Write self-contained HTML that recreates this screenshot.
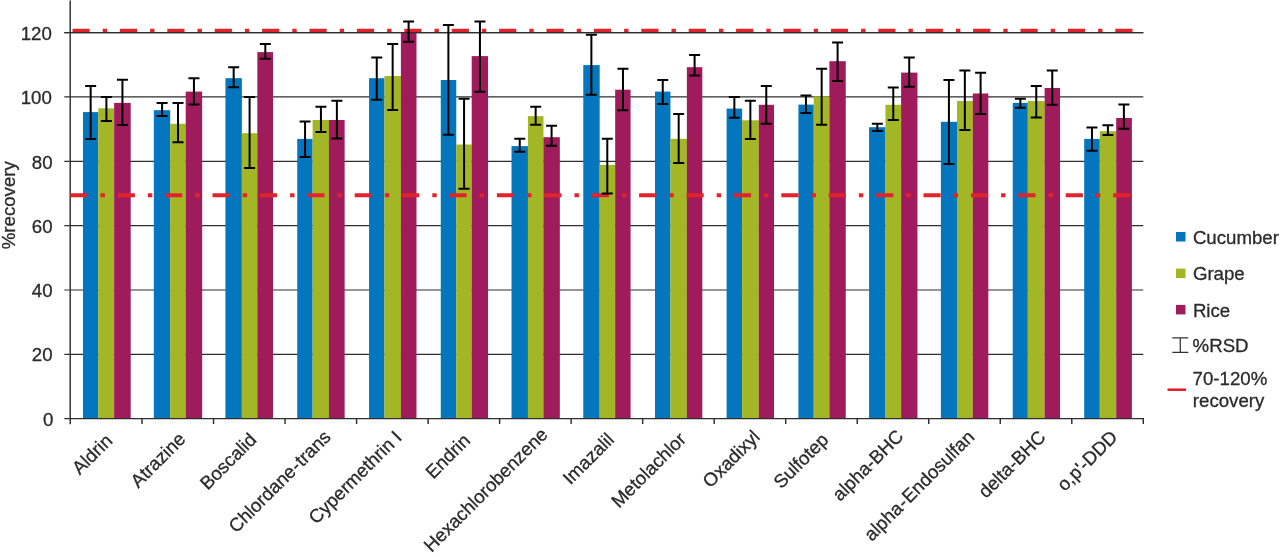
<!DOCTYPE html>
<html lang="en"><head><meta charset="utf-8"><title>%recovery chart</title>
<style>html,body{margin:0;padding:0;background:#fff;}body{width:1280px;height:557px;overflow:hidden;}svg{display:block;}text{font-family:"Liberation Sans",sans-serif;font-size:18.67px;fill:#2a2a2a;stroke:#2a2a2a;stroke-width:0.3px;}</style>
</head><body>
<svg width="1280" height="557" viewBox="0 0 1280 557">
<rect width="1280" height="557" fill="#ffffff"/>
<g stroke="#2e2e2e" stroke-width="1.2" fill="none">
<line x1="64.3" y1="354.37" x2="1143.3" y2="354.37"/>
<line x1="64.3" y1="290.01" x2="1143.3" y2="290.01"/>
<line x1="64.3" y1="225.66" x2="1143.3" y2="225.66"/>
<line x1="64.3" y1="161.30" x2="1143.3" y2="161.30"/>
<line x1="64.3" y1="96.95" x2="1143.3" y2="96.95"/>
<line x1="64.3" y1="32.60" x2="1143.3" y2="32.60"/>
</g>
<rect x="82.96" y="112.10" width="15.40" height="306.60" fill="#0476bd"/>
<rect x="98.31" y="108.30" width="15.90" height="310.40" fill="#a3b626"/>
<rect x="114.15" y="102.90" width="16.55" height="315.80" fill="#9f1b5c"/>
<rect x="153.82" y="110.20" width="16.40" height="308.50" fill="#0476bd"/>
<rect x="170.17" y="123.80" width="15.60" height="294.90" fill="#a3b626"/>
<rect x="185.71" y="91.60" width="16.45" height="327.10" fill="#9f1b5c"/>
<rect x="225.43" y="78.20" width="16.45" height="340.50" fill="#0476bd"/>
<rect x="241.83" y="133.20" width="15.55" height="285.50" fill="#a3b626"/>
<rect x="257.32" y="52.10" width="15.70" height="366.60" fill="#9f1b5c"/>
<rect x="297.24" y="138.90" width="15.40" height="279.80" fill="#0476bd"/>
<rect x="312.59" y="120.00" width="16.40" height="298.70" fill="#a3b626"/>
<rect x="328.93" y="120.00" width="15.70" height="298.70" fill="#9f1b5c"/>
<rect x="369.05" y="78.20" width="15.45" height="340.50" fill="#0476bd"/>
<rect x="384.45" y="76.00" width="16.50" height="342.70" fill="#a3b626"/>
<rect x="400.89" y="32.50" width="15.60" height="386.20" fill="#9f1b5c"/>
<rect x="440.76" y="80.00" width="15.50" height="338.70" fill="#0476bd"/>
<rect x="456.21" y="144.50" width="15.55" height="274.20" fill="#a3b626"/>
<rect x="471.70" y="56.10" width="16.35" height="362.60" fill="#9f1b5c"/>
<rect x="511.52" y="146.10" width="16.45" height="272.60" fill="#0476bd"/>
<rect x="527.92" y="116.10" width="15.55" height="302.60" fill="#a3b626"/>
<rect x="543.41" y="137.20" width="16.40" height="281.50" fill="#9f1b5c"/>
<rect x="583.28" y="65.10" width="16.40" height="353.60" fill="#0476bd"/>
<rect x="599.63" y="164.90" width="15.60" height="253.80" fill="#a3b626"/>
<rect x="615.17" y="89.70" width="15.40" height="329.00" fill="#9f1b5c"/>
<rect x="654.99" y="91.60" width="15.45" height="327.10" fill="#0476bd"/>
<rect x="670.39" y="138.80" width="16.55" height="279.90" fill="#a3b626"/>
<rect x="686.88" y="67.20" width="15.45" height="351.50" fill="#9f1b5c"/>
<rect x="726.60" y="108.60" width="15.55" height="310.10" fill="#0476bd"/>
<rect x="742.10" y="120.30" width="16.80" height="298.40" fill="#a3b626"/>
<rect x="758.84" y="104.80" width="15.20" height="313.90" fill="#9f1b5c"/>
<rect x="798.41" y="104.60" width="15.35" height="314.10" fill="#0476bd"/>
<rect x="813.71" y="96.40" width="15.75" height="322.30" fill="#a3b626"/>
<rect x="829.40" y="61.20" width="16.35" height="357.50" fill="#9f1b5c"/>
<rect x="869.07" y="127.20" width="16.45" height="291.50" fill="#0476bd"/>
<rect x="885.47" y="104.80" width="15.70" height="313.90" fill="#a3b626"/>
<rect x="901.11" y="72.60" width="16.35" height="346.10" fill="#9f1b5c"/>
<rect x="940.88" y="121.80" width="16.15" height="296.90" fill="#0476bd"/>
<rect x="956.98" y="101.00" width="15.85" height="317.70" fill="#a3b626"/>
<rect x="972.77" y="93.50" width="15.55" height="325.20" fill="#9f1b5c"/>
<rect x="1012.74" y="102.90" width="15.10" height="315.80" fill="#0476bd"/>
<rect x="1027.79" y="101.00" width="16.90" height="317.70" fill="#a3b626"/>
<rect x="1044.63" y="88.00" width="15.40" height="330.70" fill="#9f1b5c"/>
<rect x="1084.20" y="138.90" width="15.60" height="279.80" fill="#0476bd"/>
<rect x="1099.75" y="131.20" width="16.50" height="287.50" fill="#a3b626"/>
<rect x="1116.19" y="118.00" width="15.70" height="300.70" fill="#9f1b5c"/>
<g stroke="#2e2e2e" stroke-width="1.45" fill="none">
<line x1="70.2" y1="0.5" x2="70.2" y2="424.2"/>
<line x1="64.3" y1="418.6" x2="1143.9" y2="418.6"/>
<line x1="142.02" y1="418.0" x2="142.02" y2="424.0"/>
<line x1="213.54" y1="418.0" x2="213.54" y2="424.0"/>
<line x1="285.06" y1="418.0" x2="285.06" y2="424.0"/>
<line x1="356.58" y1="418.0" x2="356.58" y2="424.0"/>
<line x1="428.10" y1="418.0" x2="428.10" y2="424.0"/>
<line x1="499.62" y1="418.0" x2="499.62" y2="424.0"/>
<line x1="571.14" y1="418.0" x2="571.14" y2="424.0"/>
<line x1="642.66" y1="418.0" x2="642.66" y2="424.0"/>
<line x1="714.18" y1="418.0" x2="714.18" y2="424.0"/>
<line x1="785.70" y1="418.0" x2="785.70" y2="424.0"/>
<line x1="857.22" y1="418.0" x2="857.22" y2="424.0"/>
<line x1="928.74" y1="418.0" x2="928.74" y2="424.0"/>
<line x1="1000.26" y1="418.0" x2="1000.26" y2="424.0"/>
<line x1="1071.78" y1="418.0" x2="1071.78" y2="424.0"/>
<line x1="1143.30" y1="418.0" x2="1143.30" y2="424.0"/>
</g>
<g stroke="#e1232b" stroke-width="4" fill="none" stroke-dasharray="17.2 13 4.4 12.8">
<line x1="72.5" y1="30.7" x2="1133.2" y2="30.7"/>
<line x1="70.3" y1="195.2" x2="1131.5" y2="195.2"/>
</g>
<line x1="64.3" y1="32.60" x2="1143.3" y2="32.60" stroke="#2e2e2e" stroke-width="1.2"/>
<g stroke="#000000" stroke-width="2" fill="none">
<path d="M90.65 86.00V138.90M85.15 86.00h11M85.15 138.90h11"/>
<path d="M106.40 96.90V120.90M100.90 96.90h11M100.90 120.90h11"/>
<path d="M122.43 79.80V125.00M116.93 79.80h11M116.93 125.00h11"/>
<path d="M162.09 102.90V115.90M156.59 102.90h11M156.59 115.90h11"/>
<path d="M178.01 102.90V142.20M172.51 102.90h11M172.51 142.20h11"/>
<path d="M193.94 78.20V104.60M188.44 78.20h11M188.44 104.60h11"/>
<path d="M233.67 67.20V87.30M228.17 67.20h11M228.17 87.30h11"/>
<path d="M249.59 96.90V168.10M244.09 96.90h11M244.09 168.10h11"/>
<path d="M265.32 43.90V58.80M259.82 43.90h11M259.82 58.80h11"/>
<path d="M305.07 121.50V157.00M299.57 121.50h11M299.57 157.00h11"/>
<path d="M320.94 106.70V132.00M315.44 106.70h11M315.44 132.00h11"/>
<path d="M336.89 100.80V138.50M331.39 100.80h11M331.39 138.50h11"/>
<path d="M376.75 57.40V99.80M371.25 57.40h11M371.25 99.80h11"/>
<path d="M392.65 43.90V110.00M387.15 43.90h11M387.15 110.00h11"/>
<path d="M408.60 21.60V41.80M403.10 21.60h11M403.10 41.80h11"/>
<path d="M448.38 25.10V134.80M442.88 25.10h11M442.88 134.80h11"/>
<path d="M464.06 98.70V188.80M458.56 98.70h11M458.56 188.80h11"/>
<path d="M479.95 21.60V91.70M474.45 21.60h11M474.45 91.70h11"/>
<path d="M519.75 138.80V151.70M514.25 138.80h11M514.25 151.70h11"/>
<path d="M535.67 106.70V124.70M530.17 106.70h11M530.17 124.70h11"/>
<path d="M551.58 125.70V145.70M546.08 125.70h11M546.08 145.70h11"/>
<path d="M591.38 34.70V94.80M585.88 34.70h11M585.88 94.80h11"/>
<path d="M607.30 138.80V193.50M601.80 138.80h11M601.80 193.50h11"/>
<path d="M622.97 68.70V110.20M617.47 68.70h11M617.47 110.20h11"/>
<path d="M662.76 80.00V104.00M657.26 80.00h11M657.26 104.00h11"/>
<path d="M678.68 114.00V162.90M673.18 114.00h11M673.18 162.90h11"/>
<path d="M694.60 55.00V75.60M689.10 55.00h11M689.10 75.60h11"/>
<path d="M734.35 97.00V117.80M728.85 97.00h11M728.85 117.80h11"/>
<path d="M750.35 100.80V138.90M744.85 100.80h11M744.85 138.90h11"/>
<path d="M766.27 86.00V123.80M760.77 86.00h11M760.77 123.80h11"/>
<path d="M805.96 95.50V113.10M800.46 95.50h11M800.46 113.10h11"/>
<path d="M821.66 68.70V124.80M816.16 68.70h11M816.16 124.80h11"/>
<path d="M837.60 42.40V80.90M832.10 42.40h11M832.10 80.90h11"/>
<path d="M877.33 123.80V131.00M871.83 123.80h11M871.83 131.00h11"/>
<path d="M893.28 87.60V119.90M887.78 87.60h11M887.78 119.90h11"/>
<path d="M909.22 57.40V86.70M903.72 57.40h11M903.72 86.70h11"/>
<path d="M948.92 80.00V164.00M943.42 80.00h11M943.42 164.00h11"/>
<path d="M964.84 70.60V130.00M959.34 70.60h11M959.34 130.00h11"/>
<path d="M980.61 72.80V114.00M975.11 72.80h11M975.11 114.00h11"/>
<path d="M1020.35 98.70V107.70M1014.85 98.70h11M1014.85 107.70h11"/>
<path d="M1036.26 86.00V117.40M1030.76 86.00h11M1030.76 117.40h11"/>
<path d="M1052.26 70.60V104.80M1046.76 70.60h11M1046.76 104.80h11"/>
<path d="M1091.96 127.50V150.80M1086.46 127.50h11M1086.46 150.80h11"/>
<path d="M1107.90 125.30V135.00M1102.40 125.30h11M1102.40 135.00h11"/>
<path d="M1123.88 104.60V128.70M1118.38 104.60h11M1118.38 128.70h11"/>
</g>
<text x="53.35" y="425.55" text-anchor="end">0</text>
<text x="52.61" y="361.32" text-anchor="end">20</text>
<text x="52.61" y="297.09" text-anchor="end">40</text>
<text x="52.61" y="232.86" text-anchor="end">60</text>
<text x="52.61" y="168.63" text-anchor="end">80</text>
<text x="51.86" y="104.40" text-anchor="end">100</text>
<text x="51.86" y="40.17" text-anchor="end">120</text>
<text transform="translate(15.3,249.3) rotate(-90)">%recovery</text>
<text transform="translate(113.47,441.89) rotate(-45)" text-anchor="end">Aldrin</text>
<text transform="translate(186.61,440.27) rotate(-45)" text-anchor="end">Atrazine</text>
<text transform="translate(257.51,440.89) rotate(-45)" text-anchor="end">Boscalid</text>
<text transform="translate(331.83,438.09) rotate(-45)" text-anchor="end" dx="0 0 0 0 0 0 0 0 0 0.7 0.7">Chlordane-trans</text>
<text transform="translate(402.84,438.60) rotate(-45)" text-anchor="end">Cypermethrin I</text>
<text transform="translate(471.34,441.62) rotate(-45)" text-anchor="end">Endrin</text>
<text transform="translate(548.87,435.61) rotate(-45)" text-anchor="end">Hexachlorobenzene</text>
<text transform="translate(615.15,440.85) rotate(-45)" text-anchor="end">Imazalil</text>
<text transform="translate(687.07,440.45) rotate(-45)" text-anchor="end">Metolachlor</text>
<text transform="translate(760.96,438.08) rotate(-45)" text-anchor="end">Oxadixyl</text>
<text transform="translate(829.58,440.98) rotate(-45)" text-anchor="end">Sulfotep</text>
<text transform="translate(904.58,437.50) rotate(-45)" text-anchor="end">alpha-BHC</text>
<text transform="translate(975.52,438.08) rotate(-45)" text-anchor="end" dx="0 0 0 0 0 0.8 0.8">alpha-Endosulfan</text>
<text transform="translate(1046.90,438.22) rotate(-45)" text-anchor="end">delta-BHC</text>
<text transform="translate(1118.48,438.16) rotate(-45)" text-anchor="end">o,p&#39;-DDD</text>
<rect x="1176" y="232" width="9.5" height="9.5" fill="#0476bd"/>
<rect x="1176" y="268.6" width="9.5" height="9.5" fill="#a3b626"/>
<rect x="1176" y="304.9" width="9.5" height="9.5" fill="#9f1b5c"/>
<text x="1192.9" y="244.1">Cucumber</text>
<text x="1192.9" y="280.3">Grape</text>
<text x="1192.9" y="316.8">Rice</text>
<path d="M1172.3 337.8h16M1172.3 352.3h16M1180.3 337.8v14.5" stroke="#333" stroke-width="1.25" fill="none"/>
<text x="1192.6" y="351.8">%RSD</text>
<line x1="1167.5" y1="389.7" x2="1186" y2="389.7" stroke="#e1232b" stroke-width="2.6"/>
<text x="1192.6" y="385.3">70-120%</text>
<text x="1192.8" y="407.4">recovery</text>
</svg>
</body></html>
